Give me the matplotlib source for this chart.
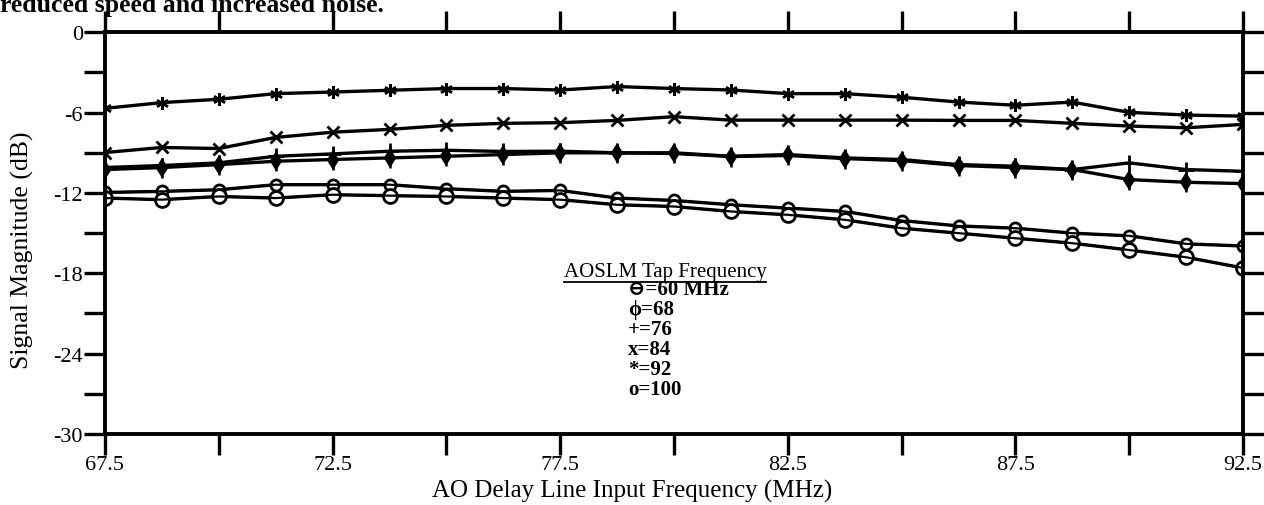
import matplotlib
matplotlib.use("Agg")
import matplotlib.pyplot as plt
from matplotlib.lines import Line2D
from matplotlib.ticker import MultipleLocator, FixedLocator

# ---- data ----
freq = [67.5, 68.75, 70.0, 71.25, 72.5, 73.75, 75.0, 76.25, 77.5, 78.75, 80.0,
        81.25, 82.5, 83.75, 85.0, 86.25, 87.5, 88.75, 90.0, 91.25, 92.5]

tap92 = [-5.68, -5.25, -5.0, -4.58, -4.46, -4.33, -4.2, -4.2, -4.31, -4.05, -4.2,
         -4.31, -4.58, -4.58, -4.85, -5.21, -5.45, -5.21, -5.98, -6.18, -6.26]
tap84 = [-8.98, -8.6, -8.68, -7.85, -7.46, -7.25, -6.95, -6.8, -6.75, -6.58, -6.3,
         -6.56, -6.56, -6.56, -6.56, -6.58, -6.58, -6.8, -7.0, -7.13, -6.88]
tap76 = [-10.1, -9.95, -9.75, -9.26, -9.08, -8.88, -8.81, -8.9, -8.88, -9.0, -9.0,
         -9.26, -9.13, -9.38, -9.5, -9.88, -10.0, -10.25, -9.75, -10.25, -10.38]
tap68 = [-10.25, -10.1, -9.88, -9.63, -9.5, -9.38, -9.26, -9.13, -9.0, -9.0, -9.05,
         -9.28, -9.2, -9.43, -9.58, -9.95, -10.1, -10.25, -11.0, -11.2, -11.3]
tap60 = [-11.96, -11.88, -11.76, -11.38, -11.38, -11.38, -11.68, -11.88, -11.81, -12.38, -12.56,
         -12.88, -13.13, -13.38, -14.06, -14.46, -14.63, -15.0, -15.2, -15.8, -15.96]
tap100 = [-12.38, -12.5, -12.26, -12.38, -12.13, -12.2, -12.26, -12.38, -12.5, -12.88, -13.01,
          -13.38, -13.63, -14.0, -14.63, -15.0, -15.38, -15.75, -16.26, -16.8, -17.6]

x_major = [67.5, 72.5, 77.5, 82.5, 87.5, 92.5]
x_labels = ["67.5", "72.5", "77.5", "82.5", "87.5", "92.5"]
y_major = [0, -6, -12, -18, -24, -30]
y_labels = ["0", "-6", "-12", "-18", "-24", "-30"]

legend_title = "AOSLM Tap Frequency"
legend_items = ["\u2296=60 MHz", "\u03d5=68", "+=76", "x=84", "*=92", "o=100"]

SERIF = ["Liberation Serif", "DejaVu Serif"]
plt.rcParams['font.family'] = SERIF

W, H = 1264, 506
fig = plt.figure(figsize=(W / 100, H / 100), dpi=100)
ax = fig.add_axes([105 / W, 1 - 435 / H, (1243 - 105) / W, (435 - 33.3) / H])

lw = 2.4
k = 'black'
ax.plot(freq, tap92, color=k, lw=lw, marker=(6, 2, 0), ms=9, mew=1.8)
ax.plot(freq, tap84, color=k, lw=lw, marker='x', ms=9, mew=2.0)
ax.plot(freq, tap76, color=k, lw=lw, marker='+', ms=12, mew=2.0)
ax.plot(freq, tap68, color=k, lw=lw, marker='d', ms=8, mfc=k, mew=1.5)
ax.plot(freq, tap68, color=k, lw=0, marker='|', ms=15, mew=1.8)
ax.plot(freq, tap60, color=k, lw=lw, marker='o', ms=8, mfc='white', mew=2.0)
ax.plot(freq, tap100, color=k, lw=lw, marker='o', ms=10, mfc='white', mew=2.0)
# lines over their circle markers, giving the theta-like look of the scan
ax.plot(freq, tap100, color=k, lw=1.6)
ax.plot(freq, tap60, color=k, lw=1.6)

ax.set_xlim(67.5, 92.5)
ax.set_ylim(-30, 0)

ax.xaxis.set_major_locator(FixedLocator(x_major))
ax.set_xticklabels(x_labels)
ax.xaxis.set_minor_locator(MultipleLocator(2.5))
ax.yaxis.set_major_locator(FixedLocator(y_major))
ax.set_yticklabels(y_labels)
ax.yaxis.set_minor_locator(MultipleLocator(3))

for s in ax.spines.values():
    s.set_linewidth(2.8)

ax.tick_params(which='both', direction='out', length=15, width=2.4, color=k,
               top=True, right=True, bottom=True, left=True,
               labeltop=False, labelright=False)
ax.tick_params(axis='x', which='major', labelsize=16, pad=0)
ax.tick_params(axis='y', which='major', labelsize=16, pad=1)

ax.set_xlabel("AO Delay Line Input Frequency (MHz)", fontsize=18)
ax.set_ylabel("Signal Magnitude (dB)", fontsize=18.5)
ax.xaxis.set_label_coords((632 - 105) / 1138, -(491 - 435) / 401.7)
ax.yaxis.set_label_coords(-(105 - 22) / 1138, (435 - 250) / 401.7)
ax.xaxis.label.set_va('center')
ax.yaxis.label.set_va('center')

# legend as text
lt = fig.text(665 / W, 1 - 272 / H, legend_title, fontsize=15, ha='center', va='center',
              family=SERIF)
ys = [290, 310, 330, 350, 370, 390]
for txt, yy in zip(legend_items, ys):
    fig.text(628 / W, 1 - yy / H, txt, fontsize=15, ha='left', va='center',
             fontweight='bold', family=SERIF)

# partially visible sentence at the top of the page
fig.text(0.0, 1 - 12 / H, "reduced speed and increased noise.", fontsize=18.5,
         fontweight='bold', ha='left', va='baseline', family=SERIF)

# underline the legend title
fig.canvas.draw()
bb = lt.get_window_extent()
fig.add_artist(Line2D([bb.x0 / W, bb.x1 / W], [(bb.y0 - 1) / H, (bb.y0 - 1) / H],
                      color=k, lw=1.3, transform=fig.transFigure))

fig.savefig("out.png", dpi=100, facecolor='white')
